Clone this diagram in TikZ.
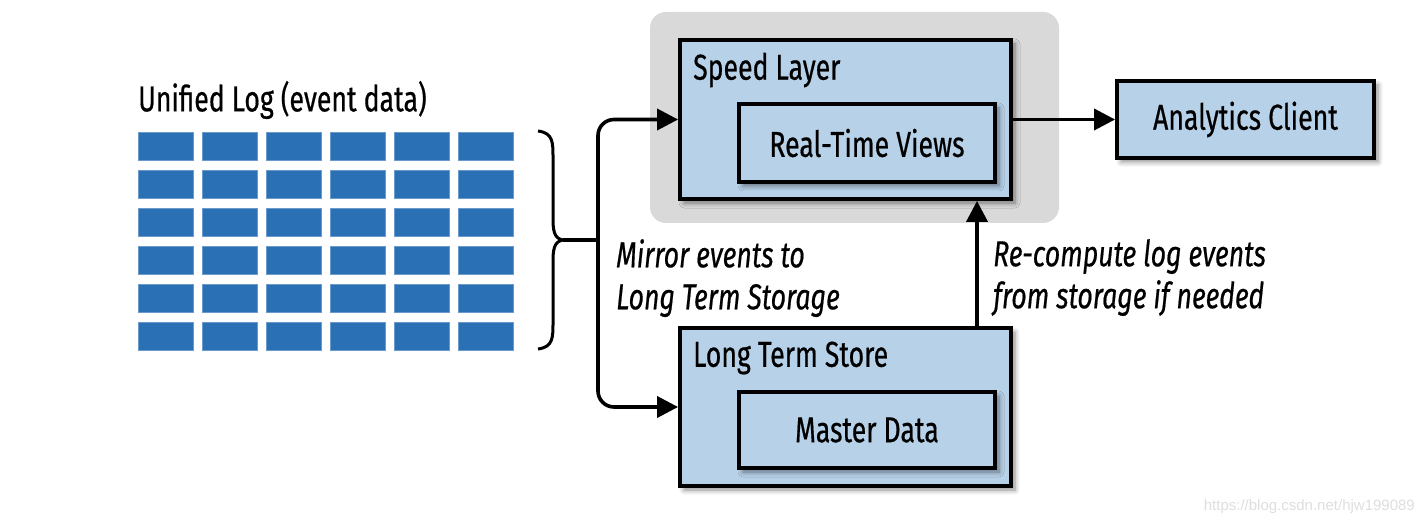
\documentclass[tikz,border=0pt]{standalone}
\usepackage{fontspec}
\setmainfont[FakeStretch=0.74,FakeBold=0.5]{Fira Sans}
\newfontfamily\wmfont{Liberation Sans}
\usetikzlibrary{arrows.meta,shadows.blur,positioning}
\definecolor{boxblue}{RGB}{183,209,232}
\definecolor{logblue}{RGB}{42,112,180}
\definecolor{bggray}{RGB}{217,217,217}
\definecolor{wmgray}{RGB}{222,222,222}
\tikzset{
  box/.style={draw=black, line width=3.8pt, fill=boxblue, inner sep=0pt,
    blur shadow={shadow xshift=4pt, shadow yshift=-4pt, shadow blur steps=6, shadow blur radius=5pt, shadow opacity=45}},
  lbl/.style={font=\fontsize{36}{42}\selectfont, inner sep=0pt},
  ital/.style={font=\fontsize{36}{42}\selectfont\itshape, inner sep=0pt, align=left},
  cell/.style={fill=logblue, draw=logblue!70!white, line width=0.6pt},
  arr/.style={line width=3.6pt, -{Triangle[length=21pt,width=21pt]}},
  conn/.style={line width=3.6pt},
}
\begin{document}
\begin{tikzpicture}[x=1pt,y=-1pt]
\useasboundingbox (0,0) rectangle (1426,526);
% grey background
\fill[bggray, rounded corners=16pt] (650,12) rectangle (1059,223);
% unified log
\node[lbl, anchor=west] (ultitle) at (138,100) {Unified Log (event data)};
\foreach \i in {0,...,5} {
  \foreach \j in {0,...,5} {
    \fill[cell] ({138+64*\i},{132+38*\j}) rectangle ++(55,28);
  }
}
% brace
\draw[conn, line width=3pt] (538,131) .. controls (553,133) and (553,142) .. (553,158) -- (553,220)
  .. controls (553,234) and (556,240) .. (565,240)
  .. controls (556,240) and (553,246) .. (553,260) -- (553,322)
  .. controls (553,338) and (553,347) .. (538,349);
\coordinate (tip) at (563,240);
\coordinate (junc) at (598,240);
% boxes
\node[box, minimum width=331pt, minimum height=159pt] (speed) at (845.5,119.5) {};
\node[lbl, anchor=west] (speedt) at (693,70) {Speed Layer};
\node[box, minimum width=256pt, minimum height=78pt] (rtv) at (867,143) {};
\node[lbl] (rtvt) at (rtv) {Real-Time Views};
\node[box, minimum width=257pt, minimum height=77pt] (ac) at (1245.5,119.5) {};
\node[lbl] (act) at (ac) {Analytics Client};
\node[box, minimum width=331pt, minimum height=158pt] (lts) at (845.5,407) {};
\node[lbl, anchor=west] (ltst) at (693,358) {Long Term Store};
\node[box, minimum width=256pt, minimum height=76pt] (md) at (867,430) {};
\node[lbl] (mdt) at (md) {Master Data};
% connectors
\draw[conn] (tip) -- (junc);
\draw[arr, rounded corners=16pt] (junc) |- (speed.west);
\draw[arr, rounded corners=16pt] (junc) |- (lts.west);
\draw[arr] (speed.east) -- (ac.west);
\draw[arr] ([xshift=131.5pt]lts.north) -- ([xshift=131.5pt]speed.south);
% labels
\node[ital, anchor=north west] (mirror) at (616,239) {Mirror events to\\[0pt]Long Term Storage};
\node[ital, anchor=north west] (recomp) at (993,239) {Re-compute log events\\[0pt]from storage if needed};
% watermark
\node[anchor=east, text=wmgray, inner sep=0pt, font=\wmfont\fontsize{15}{18}\selectfont] (wm) at (1415,507) {https://blog.csdn.net/hjw199089};
\end{tikzpicture}
\end{document}
